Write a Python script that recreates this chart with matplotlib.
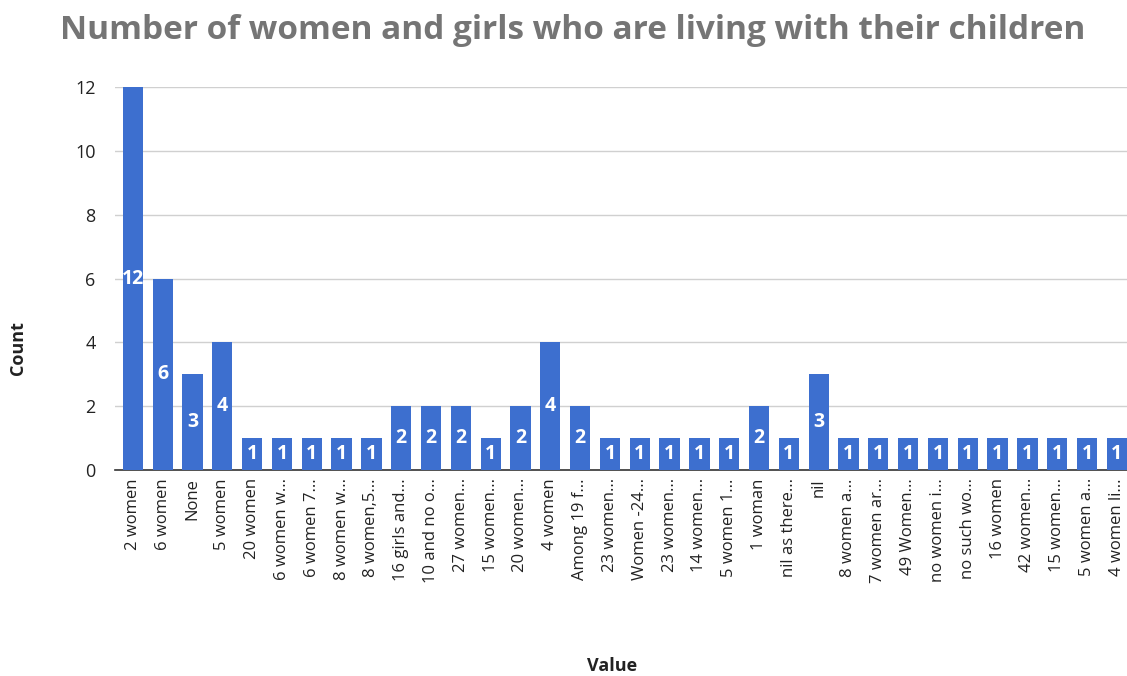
import matplotlib.pyplot as plt
import numpy as np

plt.rcParams['font.family'] = ['Open Sans', 'DejaVu Sans']

labels = ["2 women", "6 women", "None", "5 women", "20 women", "6 women w...",
          "6 women 7...", "8 women w...", "8 women,5...", "16 girls and...",
          "10 and no o...", "27 women...", "15 women...", "20 women...", "4 women",
          "Among 19 f...", "23 women...", "Women -24...", "23 women...", "14 women...",
          "5 women 1...", "1 woman", "nil as there...", "nil", "8 women a...",
          "7 women ar...", "49 Women...", "no women i...", "no such wo...", "16 women",
          "42 women...", "15 women...", "5 women a...", "4 women li..."]
counts = [12, 6, 3, 4, 1, 1, 1, 1, 1, 2, 2, 2, 1, 2, 4, 2, 1, 1, 1, 1,
          1, 2, 1, 3, 1, 1, 1, 1, 1, 1, 1, 1, 1, 1]

bar_color = '#3d6fcf'

fig = plt.figure(figsize=(11.27, 6.76), dpi=100)
ax = fig.add_axes([0.102, 0.305, 0.898, 0.566])

x = np.arange(len(labels))
ax.bar(x, counts, width=0.68, color=bar_color, zorder=3)

for i, c in enumerate(counts):
    ax.text(i, c / 2, str(c), ha='center', va='center', color='white',
            fontsize=14, fontweight='bold', zorder=4)

ax.set_xlim(-0.6, 33.34)
ax.set_ylim(0, 12)
ax.set_yticks(range(0, 13, 2))
ax.yaxis.grid(True, color='#d0d0d0', linewidth=1, zorder=0)
ax.set_axisbelow(True)
for s in ['top', 'right', 'left']:
    ax.spines[s].set_visible(False)
ax.spines['bottom'].set_color('#333333')
ax.spines['bottom'].set_linewidth(1.2)
ax.tick_params(axis='both', length=0, colors='#222222')
ax.tick_params(axis='x', pad=6, labelsize=12)
ax.tick_params(axis='y', pad=14, labelsize=13)
ax.set_xticks(x)
ax.set_xticklabels(labels, rotation=90)

ax.set_ylabel('Count', fontsize=13, fontweight='bold', color='#222222')
ax.yaxis.set_label_coords(-0.087, 0.319)
ax.set_xlabel('Value', fontsize=13, fontweight='bold', color='#222222')
ax.xaxis.set_label_coords(0.491, -0.488)

fig.text(0.053, 0.955, 'Number of women and girls who are living with their children',
         fontsize=24, fontweight='bold', color='#757575', ha='left', va='center')

fig.savefig('out.png', dpi=100)
